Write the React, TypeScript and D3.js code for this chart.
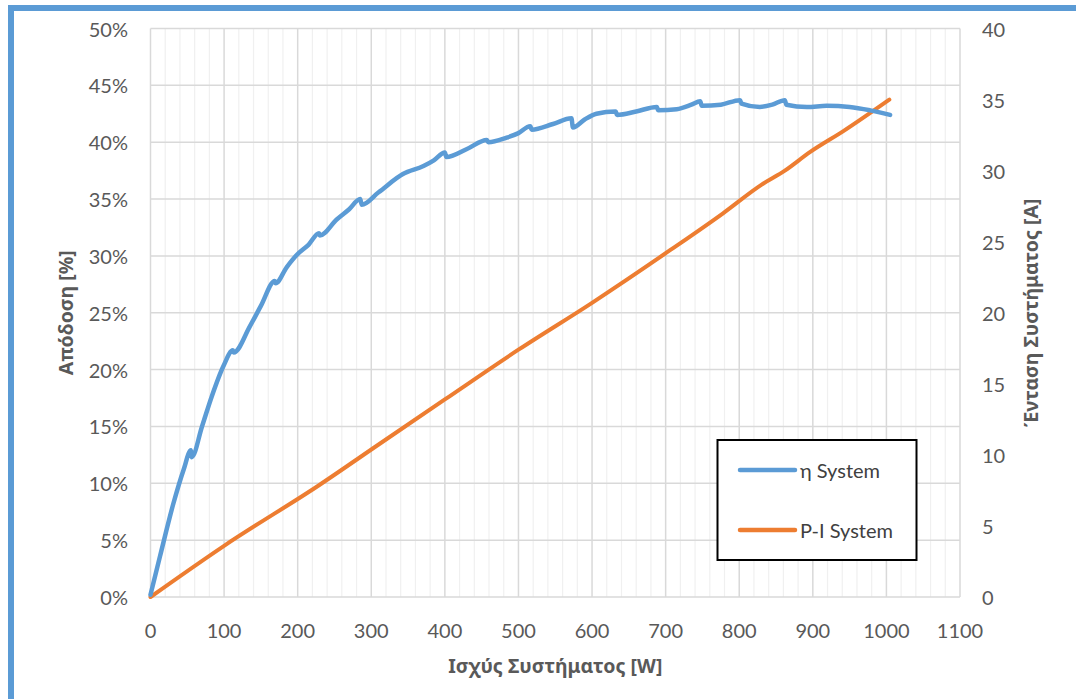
import React from 'react';
import * as d3 from 'd3';

// η System: power [W] vs efficiency [%]
const etaPower = [
  0, 13, 31, 45, 55, 56, 70, 83, 99, 112, 113, 135, 150, 169, 170, 185, 199, 215, 229, 230,
  253, 270, 285, 287, 310, 343, 371, 385, 400, 402, 430, 457, 459, 484, 500, 516, 518, 547,
  572, 574, 590, 606, 632, 634, 660, 688, 690, 715, 735, 747, 749, 775, 801, 803, 828, 845,
  862, 864, 892, 919, 950, 978, 1005,
];
const etaValues = [
  0.2, 3.6, 8.2, 11.2, 12.9, 12.3, 15.0, 17.6, 20.3, 21.7, 21.5, 23.8, 25.6, 27.8, 27.6, 29.0, 30.1, 31.0, 32.0, 31.8,
  33.2, 34.1, 35.0, 34.5, 35.6, 37.2, 37.9, 38.4, 39.1, 38.7, 39.4, 40.2, 40.0, 40.4, 40.8, 41.4, 41.1, 41.6,
  42.1, 41.3, 42.0, 42.5, 42.7, 42.4, 42.7, 43.1, 42.8, 42.9, 43.3, 43.6, 43.2, 43.3, 43.7, 43.4, 43.1, 43.3,
  43.7, 43.3, 43.1, 43.2, 43.1, 42.8, 42.4,
];

// P-I System: power [W] vs current [A]
const piPower = [0, 100, 230, 312, 400, 500, 600, 706, 778, 830, 862, 896, 942, 1004];
const piCurrent = [0, 3.6, 7.9, 10.8, 13.9, 17.4, 20.7, 24.4, 27.0, 29.0, 30.0, 31.3, 32.8, 35.0];

const xTicks = d3.range(0, 1101, 100);
const xMinorTicks = d3.range(0, 1101, 20);
const leftTicks = d3.range(0, 51, 5);
const rightTicks = d3.range(0, 41, 5);

const legendItems = [
  { label: 'η System', color: '#5b9bd5' },
  { label: 'P-I System', color: '#ed7d31' },
];

const W = 1076;
const H = 699;
const plot = { left: 150.5, right: 960, top: 28.5, bottom: 597 };

const tickFont = 'Lato, "Noto Sans", sans-serif';
const titleFont = '"Noto Sans", "Open Sans", sans-serif';

export default function App() {
  const x = d3.scaleLinear().domain([0, 1100]).range([plot.left, plot.right]);
  const yL = d3.scaleLinear().domain([0, 50]).range([plot.bottom, plot.top]);
  const yR = d3.scaleLinear().domain([0, 40]).range([plot.bottom, plot.top]);

  const etaLine = d3.line<number>()
    .x((_, i) => x(etaPower[i]))
    .y(d => yL(d))
    .curve(d3.curveMonotoneX);

  const piLine = d3.line<number>()
    .x((_, i) => x(piPower[i]))
    .y(d => yR(d))
    .curve(d3.curveMonotoneX);

  const midY = (plot.top + plot.bottom) / 2;

  return (
    <svg width={W} height={H} style={{ position: 'absolute', left: 0, top: 0, background: '#fff' }}>
      {/* outer frame */}
      <rect x={11} y={8} width={1200} height={800} fill="none" stroke="#5b9bd5" strokeWidth={6} />

      {/* minor vertical grid */}
      {xMinorTicks.filter(t => t % 100 !== 0).map(t => (
        <line key={'m' + t} x1={x(t)} x2={x(t)} y1={plot.top} y2={plot.bottom} stroke="#f0f0f0" strokeWidth={1.2} />
      ))}
      {/* major grid */}
      {xTicks.map(t => (
        <line key={'v' + t} x1={x(t)} x2={x(t)} y1={plot.top} y2={plot.bottom} stroke="#d9d9d9" strokeWidth={1.5} />
      ))}
      {leftTicks.map(t => (
        <line key={'h' + t} x1={plot.left} x2={plot.right} y1={yL(t)} y2={yL(t)} stroke="#d9d9d9" strokeWidth={1.5} />
      ))}

      {/* series */}
      <path d={piLine(piCurrent) || ''} fill="none" stroke="#ed7d31" strokeWidth={4} strokeLinecap="round" strokeLinejoin="round" />
      <path d={etaLine(etaValues) || ''} fill="none" stroke="#5b9bd5" strokeWidth={4.5} strokeLinecap="round" strokeLinejoin="round" />

      {/* x tick labels */}
      {xTicks.map(t => (
        <text key={'xl' + t} x={x(t)} y={630} textAnchor="middle" dominantBaseline="central"
          fontFamily={tickFont} fontSize={20} fill="#595959">{t}</text>
      ))}
      {/* left tick labels */}
      {leftTicks.map(t => (
        <text key={'yl' + t} x={128} y={yL(t)} textAnchor="end" dominantBaseline="central"
          fontFamily={tickFont} fontSize={20} fill="#595959">{t + '%'}</text>
      ))}
      {/* right tick labels */}
      {rightTicks.map(t => (
        <text key={'yr' + t} x={982} y={yR(t)} textAnchor="start" dominantBaseline="central"
          fontFamily={tickFont} fontSize={20} fill="#595959">{t}</text>
      ))}

      {/* axis titles */}
      <text x={(plot.left + plot.right) / 2} y={665} textAnchor="middle" dominantBaseline="central"
        fontFamily={titleFont} fontSize={19.5} fontWeight="bold" fill="#595959">Ισχύς Συστήματος [W]</text>
      <text transform={`translate(65,${midY}) rotate(-90)`} textAnchor="middle" dominantBaseline="central"
        fontFamily={titleFont} fontSize={19.5} fontWeight="bold" fill="#595959">Απόδοση [%]</text>
      <text transform={`translate(1030,${midY}) rotate(-90)`} textAnchor="middle" dominantBaseline="central"
        fontFamily={titleFont} fontSize={19.5} fontWeight="bold" fill="#595959">Ένταση Συστήματος [A]</text>

      {/* legend */}
      <rect x={717.5} y={440} width={199} height={120} fill="#fff" stroke="#000" strokeWidth={2} />
      {legendItems.map((item, i) => (
        <g key={item.label} transform={`translate(740,${470 + i * 60})`}>
          <line x1={0} x2={55} y1={0} y2={0} stroke={item.color} strokeWidth={4.5} strokeLinecap="round" />
          <text x={60} y={0} dominantBaseline="central" fontFamily={tickFont} fontSize={20} fill="#404040">{item.label}</text>
        </g>
      ))}
    </svg>
  );
}
